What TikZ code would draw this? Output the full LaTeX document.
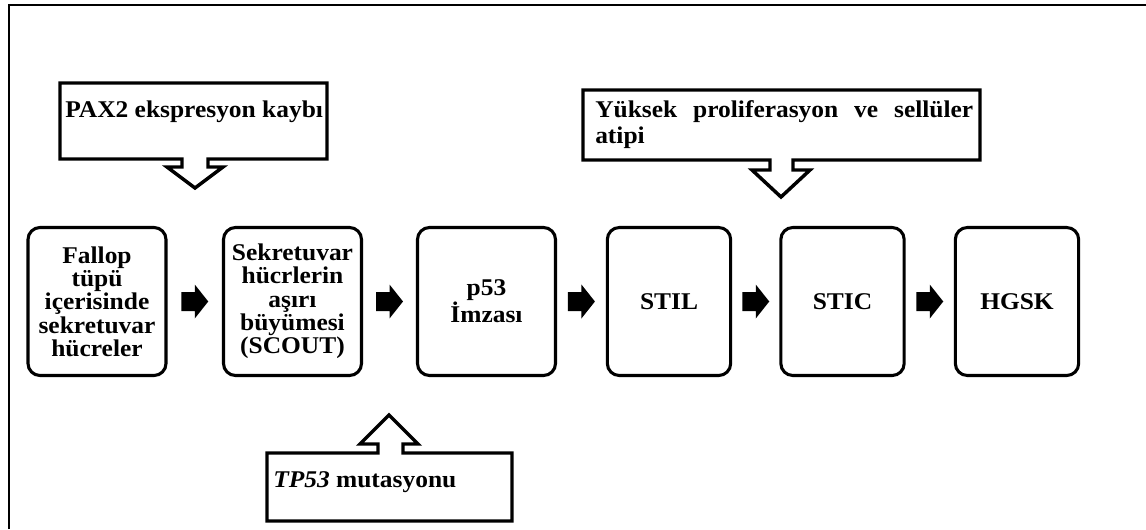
\documentclass[tikz,border=0pt]{standalone}
\usepackage{fontspec}
\setmainfont[FakeStretch=1.06]{Liberation Serif}
\usetikzlibrary{calc}
\newcommand{\blockarr}[2]{%
  \coordinate (m#1#2) at ($(#1.east)!0.5!(#2.west)$);
  \fill[shift={(m#1#2)}] (-13.5,-9.5) -- (0,-9.5) -- (0,-17) -- (13.5,0) -- (0,17) -- (0,9.5) -- (-13.5,9.5) -- cycle;}
\begin{document}
\begin{tikzpicture}[x=0.75pt,y=-0.75pt, line join=miter,
  every node/.style={font=\bfseries\fontsize{18}{17.5}\selectfont},
  stage/.style={draw, line width=2.3pt, rounded corners=9pt, align=center, inner sep=0pt, minimum height=111pt},
  wide/.style={minimum width=103.5pt},
  narrow/.style={minimum width=92.5pt},
  callout/.style={draw, line width=2.6pt},
  label/.style={inner sep=0pt}]
\useasboundingbox (0,0) rectangle (1146,529);
\draw[line width=1.6pt] (9,529) -- (9,5) -- (1146,5);
% stages
\node[stage, wide] (b1) at (97,301.5) {Fallop\\tüpü\\içerisinde\\sekretuvar\\hücreler};
\node[stage, wide] (b2) at (292.5,301.5) {Sekretuvar\\hücrlerin\\aşırı\\büyümesi\\(SCOUT)};
\node[stage, wide] (b3) at (486.5,301.5) {p53\\İmzası};
\node[stage, narrow] (b4) at (669,301.5) {STIL};
\node[stage, narrow] (b5) at (842.5,301.5) {STIC};
\node[stage, narrow] (b6) at (1017,301.5) {HGSK};
\blockarr{b1}{b2}
\blockarr{b2}{b3}
\blockarr{b3}{b4}
\blockarr{b4}{b5}
\blockarr{b5}{b6}
% callouts
\draw[callout] (60,83) -- (327,83) -- (327,159) -- (208,159) -- (208,167) -- (223,167) -- (195,188) -- (167,167) -- (182,167) -- (182,159) -- (60,159) -- cycle;
\node[label, anchor=base west] (pax) at (65,117) {PAX2 ekspresyon kaybı};
\draw[callout] (583,90) -- (980,90) -- (980,160) -- (793,160) -- (793,170) -- (810,170) -- (781,197) -- (752,170) -- (770,170) -- (770,160) -- (583,160) -- cycle;
\node[label, anchor=base west, text width=283.5pt, align=left, font=\bfseries\fontsize{18}{19.5}\selectfont] (yuk) at (595,117) {\hbox to 283.5pt{Yüksek\hfill proliferasyon\hfill ve\hfill sellüler}\\atipi};
\draw[callout] (267,453) -- (378,453) -- (378,444) -- (360,444) -- (389,415) -- (418,444) -- (403,444) -- (403,453) -- (512,453) -- (512,521) -- (267,521) -- cycle;
\node[label, anchor=base west] (tp) at (273,487) {\textit{TP53} mutasyonu};
\end{tikzpicture}
\end{document}
